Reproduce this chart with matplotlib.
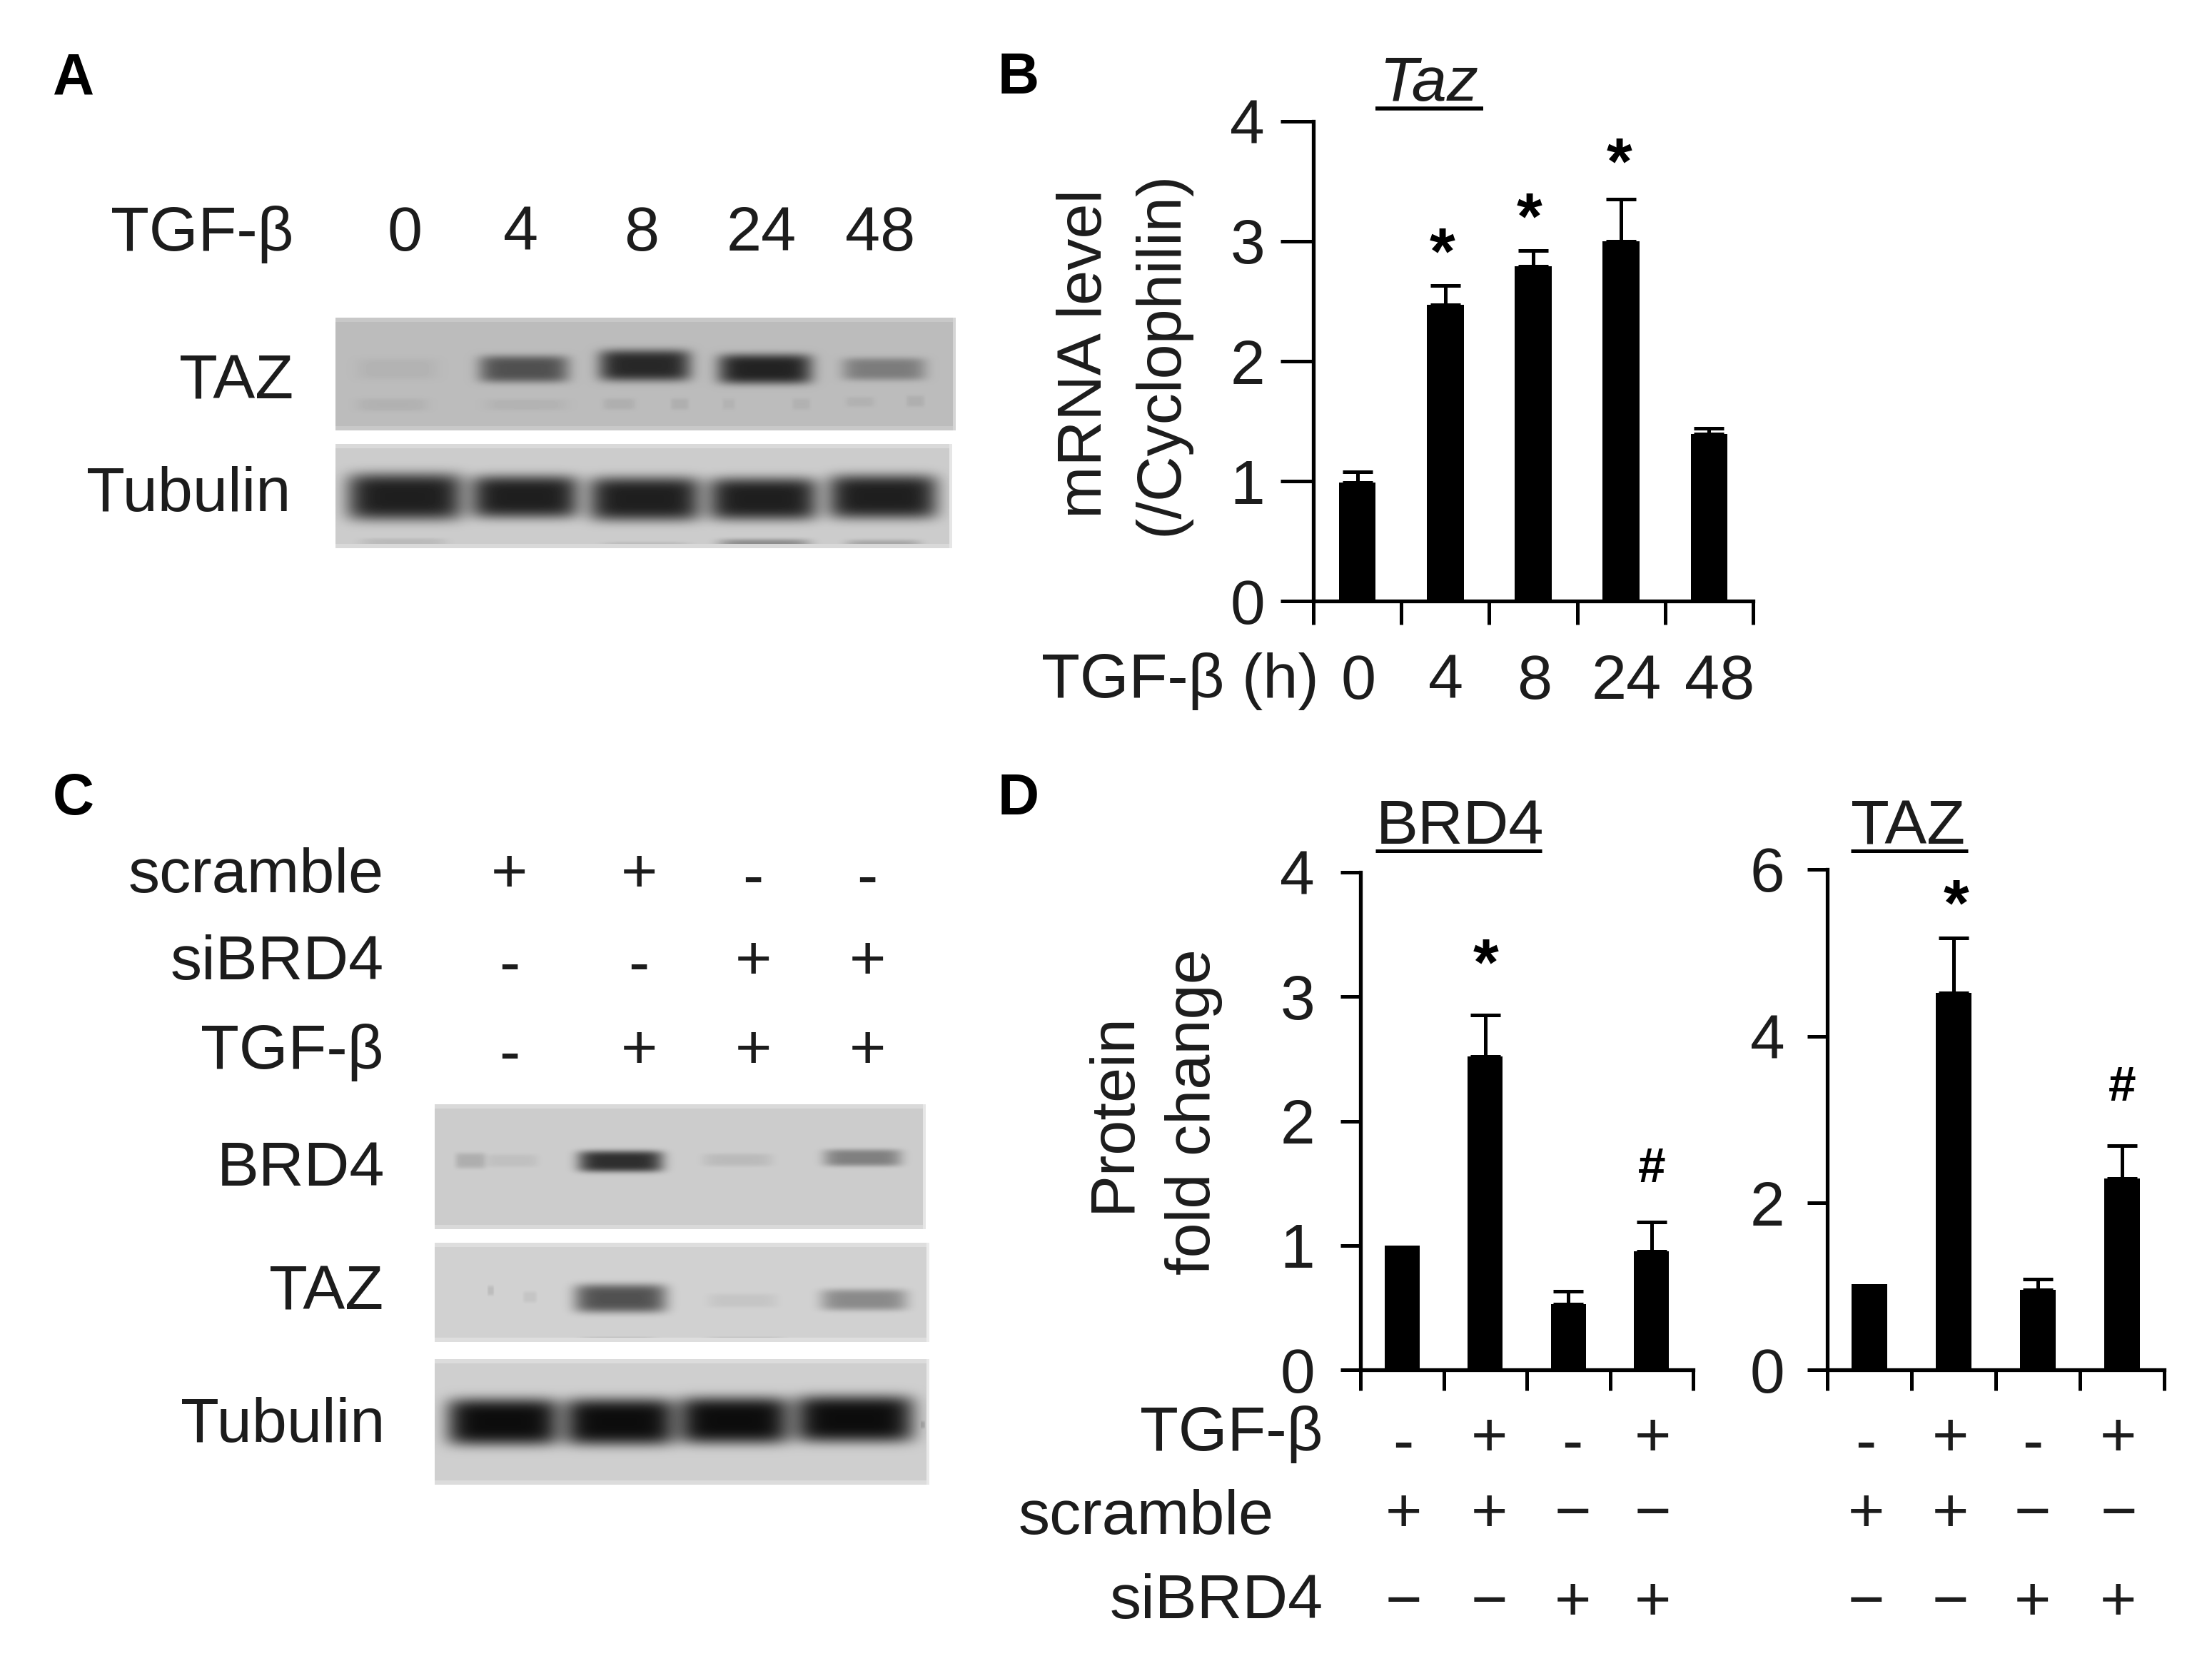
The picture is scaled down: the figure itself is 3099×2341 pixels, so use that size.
import numpy as np
import matplotlib
matplotlib.use("Agg")
import matplotlib.pyplot as plt

plt.rcParams['font.family'] = ['Liberation Sans', 'DejaVu Sans']

W, H = 3099, 2341
INK = '#1c1c1c'

# ---- data ----
taz_mrna_labels = ['0', '4', '8', '24', '48']
taz_mrna = [0.99, 2.47, 2.79, 3.00, 1.39]
taz_mrna_top = [1.08, 2.63, 2.92, 3.35, 1.44]
taz_mrna_marks = ['', '*', '*', '*', '']

brd4_protein = [1.0, 2.52, 0.53, 0.95]
brd4_protein_top = [1.0, 2.85, 0.63, 1.19]
taz_protein = [1.03, 4.52, 0.96, 2.29]
taz_protein_top = [1.03, 5.18, 1.09, 2.69]

# blot bands: x0, x1, y centre, half height, darkness (reference pixels)
blot_a_taz = [(500, 614, 517, 15, .035), (671, 797, 517, 19, .42), (839, 968, 512, 22, .58),
              (1006, 1138, 517, 21, .60), (1180, 1297, 517, 16, .25),
              (500, 600, 567, 9, .04), (680, 795, 567, 8, .035), (845, 890, 566, 8, .05),
              (940, 965, 566, 8, .05), (1012, 1030, 566, 8, .03), (1110, 1135, 566, 8, .04),
              (1185, 1225, 563, 7, .04), (1270, 1295, 562, 8, .05)]
blot_a_tub = [(486, 649, 696, 33, .68), (660, 811, 696, 30, .68), (825, 982, 699, 31, .68),
              (993, 1146, 699, 30, .68), (1160, 1314, 696, 31, .68),
              (505, 625, 760, 6, .07), (845, 965, 765, 6, .07), (1007, 1135, 765, 10, .25),
              (1185, 1290, 765, 9, .15)]
blot_c_brd4 = [(638, 680, 1626, 11, .12), (680, 754, 1626, 9, .05), (810, 929, 1627, 15, .62),
               (985, 1082, 1625, 9, .07), (1154, 1263, 1622, 12, .30)]
blot_c_taz = [(683, 692, 1808, 7, .08), (733, 752, 1817, 8, .05), (805, 934, 1819, 20, .50),
              (992, 1089, 1822, 10, .05), (1150, 1271, 1821, 15, .28),
              (815, 917, 1877, 4, .14), (992, 1096, 1877, 4, .13)]
blot_c_tub = [(626, 784, 1992, 33, .76), (791, 946, 1992, 33, .76), (951, 1106, 1990, 33, .76),
              (1113, 1281, 1988, 33, .76), (1290, 1296, 1996, 5, .10)]

A_header = ['0', '4', '8', '24', '48']
C_rows = {'scramble': ['+', '+', '-', '-'], 'siBRD4': ['-', '-', '+', '+'], 'TGF-β': ['-', '+', '+', '+']}
D_tgf = ['-', '+', '-', '+']
D_scr = ['+', '+', '−', '−']
D_si = ['−', '−', '+', '+']

fig = plt.figure(figsize=(W / 100, H / 100), dpi=100, facecolor='white')


def axes_px(x0, x1, ytop, ybot):
    return fig.add_axes([x0 / W, 1 - ybot / H, (x1 - x0) / W, (ybot - ytop) / H])


def bars(ax, vals, tops, n, ymax, yticks, width, capsize, ticklen, fs, pad):
    x = np.arange(n) + 0.5
    ax.bar(x, vals, width=width, color='black', zorder=2)
    for xi, v, t in zip(x, vals, tops):
        if t > v:
            ax.errorbar(xi, v, yerr=[[0], [t - v]], color='black', elinewidth=3.6,
                        capsize=capsize, capthick=3.6, zorder=1)
    ax.set_xlim(0, n)
    ax.set_ylim(0, ymax)
    ax.set_xticks(np.arange(n + 1))
    ax.set_xticklabels([])
    ax.set_yticks(yticks)
    ax.set_yticklabels([str(t) for t in yticks], fontsize=fs, color=INK)
    ax.tick_params(axis='x', length=ticklen[0], width=3.6)
    ax.tick_params(axis='y', length=ticklen[1], width=3.6, pad=pad)
    for s in ('top', 'right'):
        ax.spines[s].set_visible(False)
    for s in ('left', 'bottom'):
        ax.spines[s].set_linewidth(3.8)
    ax.patch.set_alpha(0)


ax_b = axes_px(1840, 2456, 170, 842)
bars(ax_b, taz_mrna, taz_mrna_top, 5, 4, [0, 1, 2, 3, 4], 0.42, 15, (24, 33), 63, 16)
ax_d1 = axes_px(1906, 2372, 1222, 1919)
bars(ax_d1, brd4_protein, brd4_protein_top, 4, 4, [0, 1, 2, 3, 4], 0.42, 15, (21, 20), 63, 26)
ax_d2 = axes_px(2560, 3032, 1218, 1919)
bars(ax_d2, taz_protein, taz_protein_top, 4, 6, [0, 2, 4, 6], 0.42, 15, (21, 20), 63, 23)

ov = fig.add_axes([0, 0, 1, 1], zorder=5)
ov.patch.set_alpha(0)
ov.axis('off')


def blot(x0, x1, y0, y1, bg, bands):
    xs = np.arange(x0, x1) + .5
    ys = np.arange(y0, y1) + .5
    X, Y = np.meshgrid(xs, ys)
    img = np.full(X.shape, bg, dtype=float)
    for a, b, yc, hh, d in bands:
        xc, hw = (a + b) / 2, (b - a) / 2
        img -= d * np.exp(-np.abs((X - xc) / hw) ** 6) * np.exp(-np.abs((Y - yc) / hh) ** 4)
    img = np.clip(img, 0, 1)
    edge = 6
    img[:edge, :] = np.minimum(bg + .05, 1)
    img[-edge:, :] = np.minimum(bg + .05, 1)
    img[:, -4:] = np.minimum(bg + .10, 1)
    ov.imshow(img, extent=(x0, x1, y1, y0), cmap='gray', vmin=0, vmax=1, aspect='auto',
              interpolation='bilinear')


blot(470, 1339, 445, 603, .735, blot_a_taz)
blot(470, 1334, 622, 768, .80, blot_a_tub)
blot(609, 1297, 1547, 1722, .80, blot_c_brd4)
blot(609, 1302, 1741, 1880, .82, blot_c_taz)
blot(609, 1302, 1904, 2080, .81, blot_c_tub)
ov.set_xlim(0, W)
ov.set_ylim(H, 0)


def T(x, y, s, ha='center', fs=63.5, **kw):
    kw.setdefault('color', INK)
    ov.text(x, y - 3, s, ha=ha, va='center_baseline', fontsize=fs, **kw)


S = 1.976
# panel letters
for lab, x, y in [('A', 52, 53), ('B', 722, 53), ('C', 52, 564), ('D', 722, 564)]:
    T(x * S, y * S, lab, fs=58, fontweight='bold', color='black')

# panel A
T(411, 163 * S, 'TGF-β', ha='right')
for x, s in zip([287, 369, 455, 540, 624], A_header):
    T(x * S, 163 * S, s)
T(208 * S, 268 * S, 'TAZ', ha='right')
T(206 * S, 348 * S, 'Tubulin', ha='right')

# panel B
T(1013 * S, 57 * S, 'Taz', fontstyle='italic')
ov.plot([1927, 2078], [151.5, 151.5], color='black', lw=4, solid_capstyle='butt')
T(935 * S, 480 * S, 'TGF-β (h)', ha='right')
for x, s in zip([963, 1025, 1088, 1153, 1219], taz_mrna_labels):
    T(x * S, 481 * S, s)
T(765 * S, 252 * S, 'mRNA level', rotation=90, rotation_mode='anchor')
T(819 * S, 252 * S, '(/Cyclophilin)', rotation=90, rotation_mode='anchor')
for (x, y), m in zip([(2021, 353), (2143, 304), (2269, 227)], taz_mrna_marks[1:4]):
    T(x, y, m, fs=66, color='black', fontweight='bold')

# panel C
for (lab, vals), y in zip(C_rows.items(), [618, 680, 743]):
    T(272 * S, y * S, lab, ha='right')
    for x, v in zip([361, 453, 534, 615], vals):
        T(x * S, y * S - (0 if v == '+' else -6), v)
T(273 * S, 826 * S, 'BRD4', ha='right')
T(272 * S, 914 * S, 'TAZ', ha='right')
T(273 * S, 1008 * S, 'Tubulin', ha='right')

# panel D
T(1035 * S, 584 * S, 'BRD4')
ov.plot([975 * S, 1093 * S], [603 * S, 603 * S], color='black', lw=3.6, solid_capstyle='butt')
T(1353 * S, 584 * S, 'TAZ')
ov.plot([1312 * S, 1395 * S], [603 * S, 603 * S], color='black', lw=3.6, solid_capstyle='butt')
T(785 * S, 790 * S, 'Protein', rotation=90, rotation_mode='anchor')
T(842 * S, 790 * S, 'fold change', rotation=90, rotation_mode='anchor')
T(2082, 1349, '*', color='black', fs=66, fontweight='bold')
T(2314, 1634, '#', fs=50, color='black', fontweight='bold')
T(2741, 1266, '*', color='black', fs=66, fontweight='bold')
T(2973, 1520, '#', fs=50, color='black', fontweight='bold')
T(938 * S, 1014 * S, 'TGF-β', ha='right')
T(903 * S, 1073 * S, 'scramble', ha='right')
T(938 * S, 1133 * S, 'siBRD4', ha='right')
for xs in ([995, 1056, 1115, 1172], [1323, 1383, 1441, 1502]):
    for x, a, b, c in zip(xs, D_tgf, D_scr, D_si):
        T(x * S, 2011 + (8 if a == '-' else 0), a)
        T(x * S, 2118, b)
        T(x * S, 2241, c)

fig.savefig('out.png', dpi=100)
